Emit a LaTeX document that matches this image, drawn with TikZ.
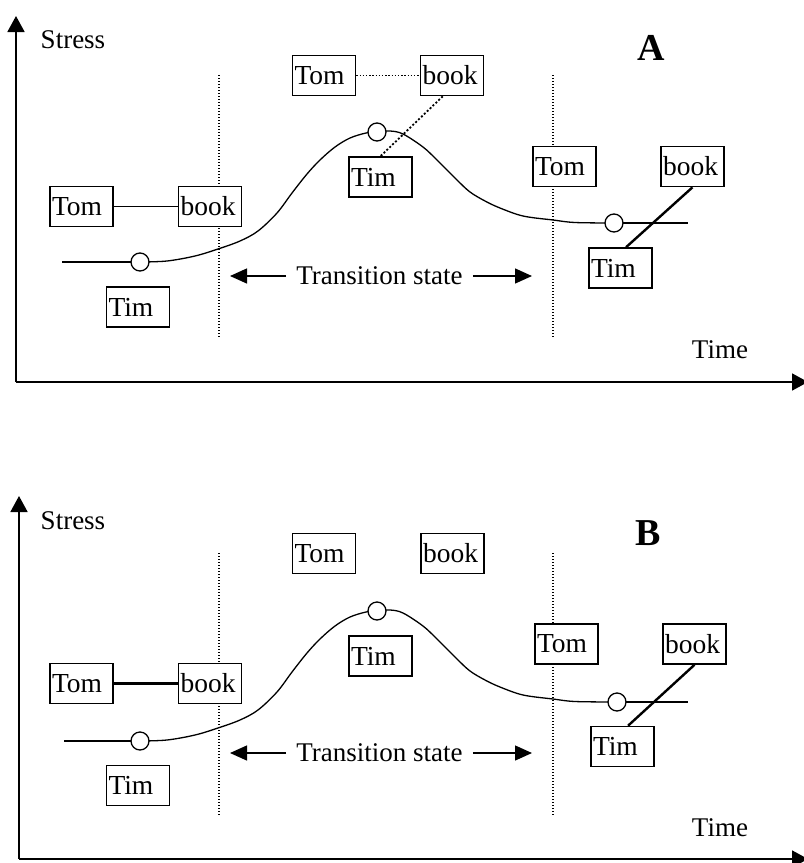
\documentclass[tikz,border=0pt]{standalone}
\usepackage{fontspec}
\setmainfont{Liberation Serif}
\usetikzlibrary{arrows.meta}
\begin{document}
\begin{tikzpicture}[x=1pt,y=-1pt,
  box/.style={draw, fill=white, line width=1.6pt, minimum height=40pt, text width=59pt,
    inner xsep=2pt, inner ysep=0pt, align=left, font=\fontsize{27.5}{29}\selectfont},
  lbl/.style={inner sep=0pt, font=\fontsize{27}{29}\selectfont},
  panel/.style={inner sep=0pt, font=\fontsize{38}{40}\selectfont\bfseries},
  circ/.style={draw, circle, fill=white, line width=1.3pt, minimum size=18pt, inner sep=0pt},
  curve/.style={line width=1.3pt},
  axis/.style={line width=1.8pt, -{Triangle[length=16pt,width=17pt]}},
  tarr/.style={line width=1.4pt, -{Triangle[length=17pt,width=15pt]}},
  vdot/.style={line width=1.4pt, dash pattern=on 1.4pt off 1.6pt},
  hdot/.style={line width=1.4pt, dash pattern=on 1.4pt off 1.8pt},
  ddot/.style={line width=1.8pt, dash pattern=on 2pt off 2pt},
  bond/.style={line width=1.4pt},
  tbond/.style={line width=3.5pt},
  dbond/.style={line width=2.4pt}]
\useasboundingbox (0,0) rectangle (804,863);

% ================= Panel A =================
\coordinate (oA) at (16,382);
\coordinate (yA) at (16,16);
\coordinate (xA) at (808,382);
\draw[axis] (oA) -- (yA);
\draw[axis] (oA) -- (xA);
\node[lbl] (stressA) at (73,40) {Stress};
\node[lbl] (timeA) at (720,350) {Time};
\node[panel] (labA) at (651,48) {A};

% dotted verticals
\coordinate (v1tA) at (219,75);  \coordinate (v1bA) at (219,337);
\coordinate (v2tA) at (553,75);  \coordinate (v2bA) at (553,337);
\draw[vdot] (v1tA) -- (v1bA);
\draw[vdot] (v2tA) -- (v2bA);

% curve
\coordinate (c0A) at (62,262);
\draw[curve] (c0A) -- (140,262);
\draw[curve] plot[smooth, tension=0.55] coordinates {(140,262) (167,261) (195,256) (218,249) (240,241) (258,231) (277,213) (292,193) (307,174) (320,160) (335,147) (350,138) (366,133) (377,132) (390,131) (403,134) (423,147) (437,160) (457,180) (470,192) (485,201) (500,208) (523,216) (553,220) (575,222.5) (614,223)};
\coordinate (c1A) at (688,223);
\draw[curve] (614,223) -- (c1A);
\node[circ] (lowA) at (140,262) {};
\node[circ] (peakA) at (377,132) {};
\node[circ] (endA) at (614,223) {};

% boxes
\node[box] (tomLA) at (81.5,206.5) {Tom};
\node[box] (bookLA) at (210,206.5) {book};
\node[box] (timLA) at (138,307) {Tim};
\node[box] (tomTA) at (324,75.5) {Tom};
\node[box] (bookTA) at (452,75.5) {book};
\node[box] (timMA) at (380.5,177) {Tim};
\node[box] (tomRA) at (564.5,166.5) {Tom};
\node[box] (bookRA) at (692.5,166.5) {book};
\node[box] (timRA) at (620.5,268) {Tim};

\draw[bond] (tomLA) -- (bookLA);
\draw[hdot] (tomTA) -- (bookTA);
\draw[ddot] (bookTA.246) -- (timMA.north);
\draw[dbond] (bookRA.south) -- (timRA.75);

% transition state
\node[lbl, inner xsep=10pt] (trA) at (379.5,276) {Transition state};
\coordinate (tlA) at (230,276);
\coordinate (trrA) at (532,276);
\draw[tarr] (trA.west) -- (tlA);
\draw[tarr] (trA.east) -- (trrA);

% ================= Panel B =================
\coordinate (oB) at (19,859);
\coordinate (yB) at (19,496);
\coordinate (xB) at (808,859);
\draw[axis] (oB) -- (yB);
\draw[axis] (oB) -- (xB);
\node[lbl] (stressB) at (73,521) {Stress};
\node[lbl] (timeB) at (720,828) {Time};
\node[panel] (labB) at (648,533) {B};

\coordinate (v1tB) at (219,553);  \coordinate (v1bB) at (219,816);
\coordinate (v2tB) at (553,553);  \coordinate (v2bB) at (553,816);
\draw[vdot] (v1tB) -- (v1bB);
\draw[vdot] (v2tB) -- (v2bB);

\begin{scope}[shift={(0,479)}]
\coordinate (c0B) at (64,262);
\draw[curve] (c0B) -- (140,262);
\draw[curve] plot[smooth, tension=0.55] coordinates {(140,262) (167,261) (195,256) (218,249) (240,241) (258,231) (277,213) (292,193) (307,174) (320,160) (335,147) (350,138) (366,133) (377,132) (390,131) (403,134) (423,147) (437,160) (457,180) (470,192) (485,201) (500,208) (523,216) (553,220) (575,222.5) (617,223)};
\coordinate (c1B) at (688,223);
\draw[curve] (617,223) -- (c1B);
\node[circ] (lowB) at (140,262) {};
\node[circ] (peakB) at (377,132) {};
\node[circ] (endB) at (617,223) {};
\end{scope}

\node[box] (tomLB) at (81.5,683.5) {Tom};
\node[box] (bookLB) at (210,683.5) {book};
\node[box] (timLB) at (138,785.5) {Tim};
\node[box] (tomTB) at (324,553.5) {Tom};
\node[box] (bookTB) at (452.5,553.5) {book};
\node[box] (timMB) at (380.5,656) {Tim};
\node[box] (tomRB) at (566.5,644) {Tom};
\node[box] (bookRB) at (694.5,644) {book};
\node[box] (timRB) at (622.5,746.5) {Tim};

\draw[tbond] (tomLB) -- (bookLB);
\draw[dbond] (bookRB.south) -- (timRB.75);

\node[lbl, inner xsep=10pt] (trB) at (379.5,753) {Transition state};
\coordinate (tlB) at (230,753);
\coordinate (trrB) at (532,753);
\draw[tarr] (trB.west) -- (tlB);
\draw[tarr] (trB.east) -- (trrB);
\end{tikzpicture}
\end{document}
